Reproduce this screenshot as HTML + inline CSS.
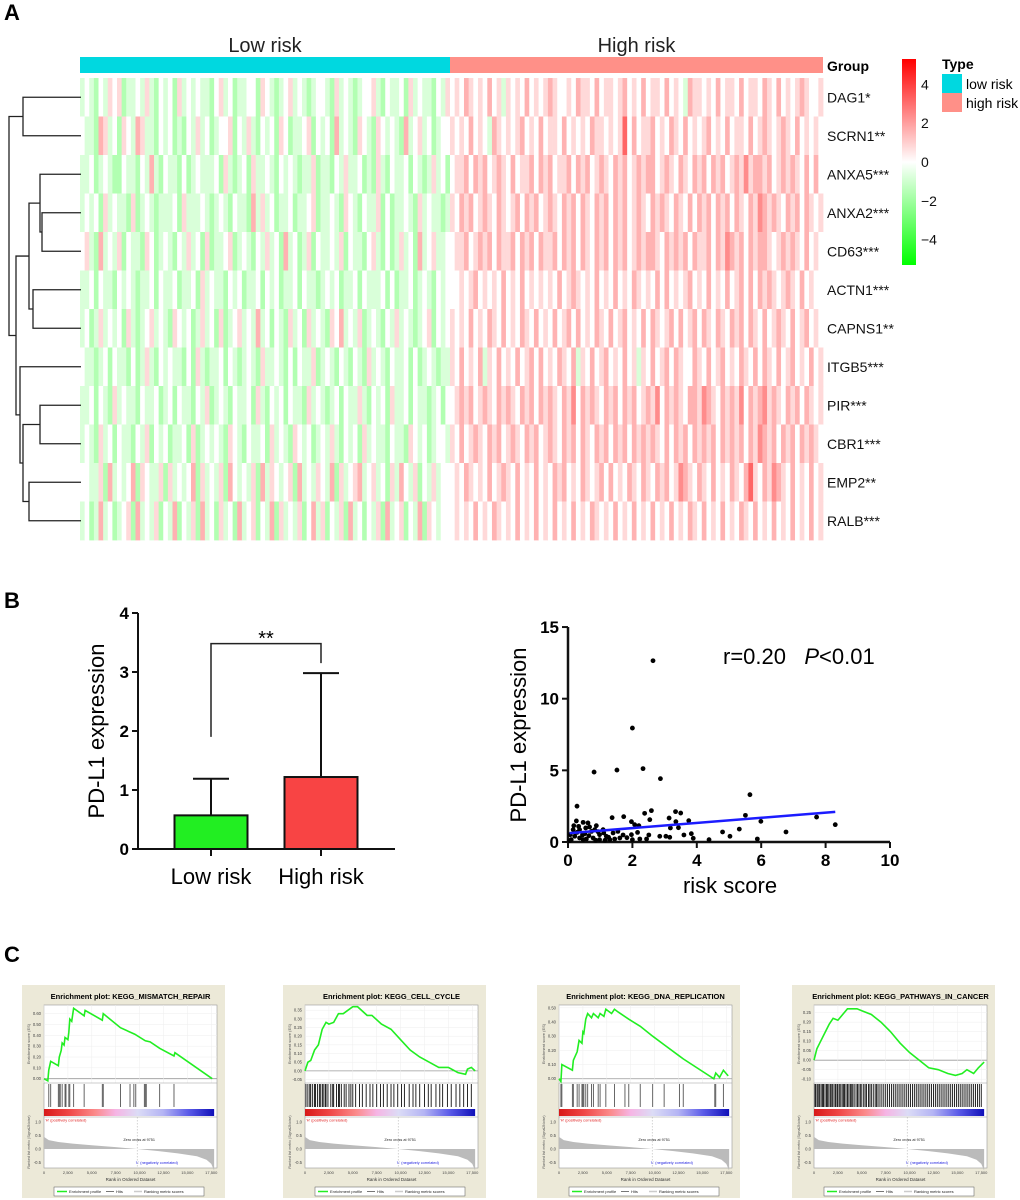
<!DOCTYPE html>
<html><head><meta charset="utf-8">
<style>
html,body{margin:0;padding:0;background:#fff;}
svg{display:block;font-family:"Liberation Sans",Arial,sans-serif;}
</style></head>
<body>
<svg id="fig" xmlns="http://www.w3.org/2000/svg" width="1020" height="1200" viewBox="0 0 1020 1200">
<defs>
<linearGradient id="cbGrad" x1="0" y1="0" x2="0" y2="1">
<stop offset="0" stop-color="#ff0000"/><stop offset="0.5" stop-color="#ffffff"/><stop offset="1" stop-color="#00ff00"/>
</linearGradient>
<linearGradient id="rankGrad" x1="0" y1="0" x2="1" y2="0">
<stop offset="0" stop-color="#d81818"/><stop offset="0.15" stop-color="#f04848"/><stop offset="0.3" stop-color="#fb8a8a"/>
<stop offset="0.42" stop-color="#f6b4e4"/><stop offset="0.55" stop-color="#dcdcf6"/><stop offset="0.7" stop-color="#b4b4f4"/>
<stop offset="0.85" stop-color="#5a5ae8"/><stop offset="1" stop-color="#1010b8"/>
</linearGradient>
</defs>
<text x="4" y="20" font-size="22" font-weight="bold">A</text>
<text x="4" y="608" font-size="22" font-weight="bold">B</text>
<text x="4" y="962" font-size="22" font-weight="bold">C</text>
</svg>
<script>
const NS='http://www.w3.org/2000/svg';
const svg=document.getElementById('fig');
function el(tag,attrs,parent){const e=document.createElementNS(NS,tag);for(const k in attrs)e.setAttribute(k,attrs[k]);(parent||svg).appendChild(e);return e;}
function txt(str,attrs,parent){const e=el('text',attrs,parent);e.textContent=str;return e;}

/* ================= HEATMAP DATA ================= */
const genes=['DAG1*','SCRN1**','ANXA5***','ANXA2***','CD63***','ACTN1***','CAPNS1**','ITGB5***','PIR***','CBR1***','EMP2**','RALB***'];
const lowRows=[
"45435465634454643545364545443564534455365434564543455436454345564354453645443546",
"54437645365476443545343546453455635464354536534456354537454365436545437456453455",
"44534543354435474354435345444536434536445435454344634435464453436435445354346453",
"45453645443634543444536444543454354437464534453445634454365435446353445436454434",
"56437454635443653454354645363445634543546453745346354454635443564353464537456445",
"44535443545434453544534453645443545344535453445354434545344535444535344534543545",
"45346454536434564543654534645363456454745354364536454365745463454354645434563545",
"54434535443534643545443536434453543454364454353544634543543543645435445353454344",
"44535436454435445345354435463454354453643545354436454345354464354536445354434535",
"45436453544354635453445363454543654354453645436545345464354536454435443654534554",
"55446374545736544636454573645463754546374654563745465473645674564536475463546455",
"45347453456374546354735463745364537456354736454635746354637453546374563547365455"];
const highRows=[
"56576565756465657565676556576657566567565756657565476656575665756657657565676556",
"65657565476565675657566575656576656569575667565765756567565756657567656765756565",
"56675767567657566757675667576756765767567677567657657675767567686776756767657575",
"65767567657656757675676576757657675767567657676576575767576757657687676576757656",
"56675676757667576757667576757657675767567677657676757667576876757677656767657565",
"55656756565756575656565756765657565756576565757565675657565756757576765676575655",
"65657565765756576575657567575657657567565757656757567576576576757657567657567565",
"65756574657565756757565765746575675657564657567576557657567565765757657567565756",
"56767567657676576757676576857676576757675676857676577687657676857678676576757656",
"65756765767567657675676576757657675767576767657576757676757676757687675767576765",
"56576565756765756575657675657656757565765765767568765765756576579657687657565756",
"56565756576565756575657565756576565756575657565756576575657565765756575657565756"];
const colorbarTicks=[4,2,0,-2,-4];
const groupNames=['Low risk','High risk'];
const levelStep=0.8;

const hmX0=80,hmMid=450,hmX1=823,hmY0=78,rowH=38.5;
function heatColor(v){const t=Math.min(1,Math.abs(v)/5.3);
  if(v>=0){const g=Math.round(255*(1-t));return 'rgb(255,'+g+','+g+')';}
  const r=Math.round(255*(1-t));return 'rgb('+r+',255,'+r+')';}
const hm=el('g',{});


function drawHalf(rows,x0,x1){
  rows.forEach((s,i)=>{const w=(x1-x0)/s.length;
    for(let j=0;j<s.length;j++){const v=(parseInt(s[j])-5)*levelStep;
      const r=el('rect',{x:(x0+j*w).toFixed(2),y:(hmY0+i*rowH).toFixed(2),width:(w+0.4).toFixed(2),height:(rowH+0.4).toFixed(2),fill:heatColor(v)},hm);
      
      
    }});
}
drawHalf(lowRows,hmX0,hmMid);
drawHalf(highRows,hmMid,hmX1);
let gb=el('rect',{x:hmX0,y:57,width:hmMid-hmX0,height:16,fill:'#00d8e0'});


gb=el('rect',{x:hmMid,y:57,width:hmX1-hmMid,height:16,fill:'#ff9088'});


let t=txt(groupNames[0],{x:(hmX0+hmMid)/2,y:52,'font-size':20,'text-anchor':'middle',fill:'#222'});


t=txt(groupNames[1],{x:(hmMid+hmX1)/2,y:52,'font-size':20,'text-anchor':'middle',fill:'#222'});


t=txt('Group',{x:827,y:71,'font-size':14,'font-weight':'bold'});


genes.forEach((g,i)=>{const l=txt(g,{x:827,y:hmY0+rowH*(i+0.5)+5,'font-size':14,fill:'#111'});
  
  });
const cbY0=59,cbY1=265,cb0=162,cbScale=19.4;
let cbr=el('rect',{x:902,y:cbY0,width:14,height:cbY1-cbY0,fill:'url(#cbGrad)'});


colorbarTicks.forEach(v=>{const l=txt(v<0?'\u2212'+(-v):String(v),{x:921,y:cb0-v*cbScale+5,'font-size':14,fill:'#111'});
  
  });
t=txt('Type',{x:942,y:69,'font-size':14,'font-weight':'bold'});


let lb=el('rect',{x:942,y:74,width:20,height:19,fill:'#00d8e0'});


lb=el('rect',{x:942,y:93,width:20,height:19,fill:'#ff9088'});


t=txt('low risk',{x:966,y:89,'font-size':14});


t=txt('high risk',{x:966,y:108,'font-size':14});


const dendNodes=[[0,1,23],[3,4,42],[2,'n1',40],[5,6,33],['n2','n3',29],[8,9,40],[10,11,29],['n5','n6',23],[7,'n7',20],['n4','n8',16],['n0','n9',9]];
const dg=el('g',{stroke:'#222','stroke-width':1.3,fill:'none'});


const nodePos={};
function childPos(c){if(typeof c==='number')return {x:81,y:hmY0+rowH*(c+0.5)};return nodePos[c];}
dendNodes.forEach((n,k)=>{const a=childPos(n[0]),b=childPos(n[1]),x=n[2];
  el('path',{d:'M'+a.x+','+a.y+'H'+x+'V'+b.y+'H'+b.x},dg);
  nodePos['n'+k]={x:x,y:(a.y+b.y)/2};});

/* ================= BAR CHART ================= */
const barCats=['Low risk','High risk'];
const barMeans=[0.57,1.22];
const barErr=[1.19,2.98];
const barColors=['#22ee22','#f84444'];
const barYTicks=[0,1,2,3,4];
const bracketY=3.48,bracketLeftY=1.9,bracketRightY=3.15;
const bX0=138,bX1=395,bYb=849,bPx=59;
const barCenters=[211,321];
function by(v){return bYb-v*bPx;}
const bg=el('g',{});


barCats.forEach((c,i)=>{const cx=barCenters[i];
  const r=el('rect',{x:cx-36.5,y:by(barMeans[i]),width:73,height:by(0)-by(barMeans[i]),fill:barColors[i],stroke:'#111','stroke-width':2},bg);
  
  
  const e=el('path',{d:'M'+cx+','+by(barMeans[i])+'V'+by(barErr[i])+'M'+(cx-18)+','+by(barErr[i])+'H'+(cx+18),stroke:'#111','stroke-width':2,fill:'none'},bg);
  
  
  const l=txt(c,{x:cx,y:884,'font-size':22,'text-anchor':'middle'},bg);
  
  
  el('line',{x1:cx,y1:bYb,x2:cx,y2:bYb+7,stroke:'#111','stroke-width':2},bg);
});
let ax=el('path',{d:'M'+bX0+','+by(4)+'V'+bYb+'H'+bX1,stroke:'#111','stroke-width':2,fill:'none'},bg);


barYTicks.forEach(v=>{el('line',{x1:bX0-6,y1:by(v),x2:bX0,y2:by(v),stroke:'#111','stroke-width':2},bg);
  const l=txt(String(v),{x:bX0-9,y:by(v)+6,'font-size':17,'font-weight':'bold','text-anchor':'end'},bg);
  
  });
let br=el('path',{d:'M'+barCenters[0]+','+by(bracketLeftY)+'V'+by(bracketY)+'H'+barCenters[1]+'V'+by(bracketRightY),stroke:'#222','stroke-width':1.5,fill:'none'},bg);


t=txt('**',{x:(barCenters[0]+barCenters[1])/2,y:645,'font-size':20,'text-anchor':'middle'},bg);


t=txt('PD-L1 expression',{x:0,y:0,'font-size':22,'text-anchor':'middle',transform:'translate(104,731) rotate(-90)'},bg);



/* ================= SCATTER ================= */
const scatterX=[2.64,2.0,0.81,1.52,2.33,2.87,5.65,0.28,2.38,2.59,3.34,3.5,1.73,1.37,3.14,5.51,7.72,8.3,5.99,3.75,2.54,3.35,3.43,3.18,5.32,4.8,5.03,6.77,5.88,4.38,3.83,3.89,3.6,3.04,3.16,2.85,2.51,2.44,2.23,2.16,1.97,2.07,1.97,2.2,0.26,0.47,0.62,0.88,1.09,0.16,0.36,0.52,0.73,0.98,1.19,1.4,1.55,1.61,1.45,1.3,0.98,0.78,0.57,0.36,0.21,0.1,0.05,0.33,0.55,0.67,0.83,0.93,0.28,0.45,0.65,1.11,1.26,1.71,1.83,2.0,0.07,0.18,0.47,0.86,1.15];
const scatterY=[12.65,7.95,4.88,5.02,5.12,4.42,3.3,2.5,2.0,2.19,2.12,2.02,1.77,1.7,1.67,1.86,1.74,1.21,1.44,1.49,1.56,1.42,1.0,0.98,0.9,0.7,0.4,0.7,0.21,0.16,0.58,0.26,0.49,0.4,0.33,0.4,0.49,0.21,0.21,0.67,0.51,1.21,1.42,1.14,1.47,1.37,1.33,1.14,0.86,0.86,0.86,0.58,0.74,0.51,0.4,0.63,0.74,0.28,0.21,0.16,0.16,0.28,0.21,0.28,0.4,0.16,0.09,1.09,0.98,1.05,0.86,0.72,0.67,0.49,0.44,0.63,0.33,0.49,0.3,0.16,0.51,1.14,0.16,0.12,0.12];
const fitX=[0.05,8.3];
const fitY=[0.62,2.1];
const scXTicks=[0,2,4,6,8,10];
const scYTicks=[0,5,10,15];
const sX0=568,sY0=842,sXpx=32.2,sYpx=14.33;
function sx(v){return sX0+v*sXpx;}
function sy(v){return sY0-v*sYpx;}
const sg=el('g',{});


ax=el('path',{d:'M'+sx(0)+','+sy(15)+'V'+sY0+'H'+sx(10),stroke:'#111','stroke-width':2.5,fill:'none'},sg);


scXTicks.forEach(v=>{el('line',{x1:sx(v),y1:sY0,x2:sx(v),y2:sY0+6,stroke:'#111','stroke-width':2},sg);
  const l=txt(String(v),{x:sx(v),y:866,'font-size':17,'font-weight':'bold','text-anchor':'middle'},sg);
  
  });
scYTicks.forEach(v=>{el('line',{x1:sX0-6,y1:sy(v),x2:sX0,y2:sy(v),stroke:'#111','stroke-width':2},sg);
  const l=txt(String(v),{x:sX0-9,y:sy(v)+6,'font-size':17,'font-weight':'bold','text-anchor':'end'},sg);
  
  });
scatterX.forEach((x,i)=>{const c=el('circle',{cx:sx(x),cy:sy(scatterY[i]),r:2.4,fill:'#000'},sg);
  
  });
let fl=el('line',{x1:sx(fitX[0]),y1:sy(fitY[0]),x2:sx(fitX[1]),y2:sy(fitY[1]),stroke:'#1c1cff','stroke-width':2.5},sg);


t=txt('',{x:723,y:664,'font-size':22},sg);
t.innerHTML='r=0.20\u00a0\u00a0 <tspan font-style="italic">P</tspan>&lt;0.01';


t=txt('risk score',{x:730,y:893,'font-size':22,'text-anchor':'middle'},sg);


t=txt('PD-L1 expression',{x:0,y:0,'font-size':22,'text-anchor':'middle',transform:'translate(526,735) rotate(-90)'},sg);



/* ================= GSEA ================= */
const gseaTitles=['Enrichment plot: KEGG_MISMATCH_REPAIR','Enrichment plot: KEGG_CELL_CYCLE','Enrichment plot: KEGG_DNA_REPLICATION','Enrichment plot: KEGG_PATHWAYS_IN_CANCER'];
const gseaLefts=[22,283,537,792];
const esRanges=[[-0.04,0.68],[-0.07,0.38],[-0.03,0.52],[-0.12,0.29]];
const esTicks=[[0,0.1,0.2,0.3,0.4,0.5,0.6],[-0.05,0,0.05,0.1,0.15,0.2,0.25,0.3,0.35],[0,0.1,0.2,0.3,0.4,0.5],[-0.1,-0.05,0,0.05,0.1,0.15,0.2,0.25]];
const esRank1=[0,0.4,0.5,0.7,1.5,1.6,1.8,1.9,2.1,2.2,2.5,2.6,2.7,2.9,3.1,4.2,4.3,6.1,6.2,8,9.5,10.6,11.1,12.1,13.6,13.7,17.6];
const esVal1=[0,-0.02,0.08,0.16,0.12,0.2,0.26,0.33,0.31,0.38,0.36,0.43,0.55,0.53,0.65,0.58,0.63,0.54,0.6,0.47,0.41,0.35,0.34,0.28,0.21,0.24,0];
const esRank2=[0,0.3,0.6,1,1.4,1.8,2.2,2.5,3,3.5,4,4.5,5,5.5,6.5,7,8,9,10,11,12,13,14,15,16,16.8,17,17.4,17.8];
const esVal2=[0,0.05,0.06,0.12,0.15,0.24,0.28,0.27,0.28,0.33,0.33,0.35,0.37,0.37,0.32,0.32,0.27,0.24,0.18,0.12,0.08,0.05,0.02,0.02,-0.01,-0.02,0.01,0.02,0.0];
const esRank3=[0,0.2,0.3,1.4,1.5,1.9,2.1,2.4,2.5,2.6,2.8,3.0,3.4,3.6,4.1,4.3,4.7,4.9,5.5,5.8,6.2,7.3,8.5,9.8,11,12.6,13,16.2,16.4,16.8,17.2,17.7];
const esVal3=[0,-0.02,0.1,0.06,0.13,0.19,0.27,0.25,0.33,0.32,0.42,0.46,0.43,0.46,0.43,0.46,0.44,0.49,0.46,0.49,0.47,0.42,0.37,0.3,0.24,0.16,0.14,0,0.04,0.01,0.06,0.02];
const esRank4=[0,0.3,0.6,1.2,1.6,2,2.5,3,3.5,4.5,5,6,7,8,9,10,11,12,13,14,14.8,15.5,16,16.7,17.2,17.8];
const esVal4=[0,0.06,0.09,0.15,0.19,0.22,0.21,0.24,0.27,0.27,0.26,0.24,0.2,0.15,0.09,0.04,0.0,-0.04,-0.05,-0.07,-0.08,-0.07,-0.05,-0.07,-0.04,-0.01];
const esRanks=[esRank1,esRank2,esRank3,esRank4];
const esVals=[esVal1,esVal2,esVal3,esVal4];
const hits1=[0.5,0.7,1.5,1.6,1.7,1.9,2.2,2.3,2.6,2.7,3.1,4.2,6.1,6.2,8.0,9.0,9.4,9.6,10.5,10.6,10.7,12.1,13.6];
const hits2=[0.1,0.3,0.5,0.6,0.8,1.0,1.1,1.3,1.5,1.6,1.8,1.9,2.1,2.2,2.4,2.7,2.9,3.0,3.3,3.5,3.6,3.8,4.1,4.3,4.6,4.8,5.0,5.3,5.7,6.0,6.4,6.8,7.1,7.5,7.9,8.2,8.6,9.0,9.3,9.7,10.1,10.4,10.9,11.3,11.6,12.0,12.5,12.9,13.2,13.7,14.1,14.4,14.9,15.3,15.8,16.2,16.6,17.0,17.4];
const hits3=[0.2,0.3,1.4,1.5,1.9,2.1,2.4,2.5,2.6,2.8,3.0,3.4,3.6,4.1,4.3,4.9,5.8,6.9,7.3,8.5,9.8,11.0,12.6,13.0,16.3,16.4,17.2];
const hits4=[0.1,0.2,0.35,0.5,0.6,0.75,0.9,1.0,1.15,1.3,1.4,1.55,1.7,1.8,1.95,2.1,2.25,2.4,2.5,2.65,2.8,2.95,3.1,3.2,3.35,3.5,3.65,3.8,3.9,4.05,4.2,4.4,4.55,4.7,4.85,5.0,5.2,5.35,5.5,5.7,5.85,6.0,6.2,6.4,6.55,6.7,6.9,7.1,7.3,7.5,7.7,7.9,8.1,8.3,8.5,8.7,8.9,9.1,9.3,9.5,9.7,9.9,10.1,10.3,10.5,10.7,10.9,11.1,11.3,11.5,11.7,11.9,12.1,12.3,12.5,12.7,12.9,13.1,13.3,13.5,13.7,13.9,14.1,14.3,14.5,14.7,14.9,15.1,15.3,15.5,15.7,15.9,16.1,16.3,16.5,16.7,16.9,17.1,17.3,17.5];
const hitsAll=[hits1,hits2,hits3,hits4];
const rankMetricRank=[0,0.5,1.5,3,5,7.5,9.75,12,14,16,17,17.5,17.8];
const rankMetricVal=[0.45,0.33,0.26,0.2,0.14,0.07,0,-0.08,-0.16,-0.27,-0.4,-0.55,-0.8];
const rankXTicks=[0,2.5,5,7.5,10,12.5,15,17.5];
const rankXLabels=['0','2,500','5,000','7,500','10,000','12,500','15,000','17,500'];
const zeroCross=9.751;

gseaLefts.forEach((px,p)=>{
  const g=el('g',{});
  
  
  const pl=px+22,pr=px+195,pw=pr-pl;
  function X(r){return pl+r/18.1*pw;}
  const [mn,mx]=esRanges[p];
  function Y(v){return 1005+(mx-v)/(mx-mn)*78;}
  function YR(v){return 1149-v*27;}
  el('rect',{x:px,y:985,width:203,height:213,fill:'#ece9d8'},g);
  const tt=txt(gseaTitles[p],{x:(pl+pr)/2,y:999,'font-size':7.5,'font-weight':'bold','text-anchor':'middle'},g);
  
  
  el('rect',{x:pl,y:1005,width:pw,height:163,fill:'#fff',stroke:'#999','stroke-width':0.6},g);
  esTicks[p].forEach(v=>{el('line',{x1:pl,y1:Y(v),x2:pr,y2:Y(v),stroke:v===0?'#999':'#eee','stroke-width':v===0?0.8:0.5},g);
    const l=txt(v.toFixed(2),{x:pl-3,y:Y(v)+1.5,'font-size':4.2,'text-anchor':'end',fill:'#444'},g);
    
    });
  rankXTicks.forEach(r=>{el('line',{x1:X(r),y1:1005,x2:X(r),y2:1083,stroke:'#eee','stroke-width':0.5},g);});
  const rl=txt('Enrichment score (ES)',{x:0,y:0,'font-size':4,'text-anchor':'middle',fill:'#555',transform:'translate('+(px+8)+',1044) rotate(-90)'},g);
  
  
  const pts=esRanks[p].map((r,i)=>X(r).toFixed(2)+','+Y(esVals[p][i]).toFixed(2)).join(' ');
  const c=el('polyline',{points:pts,fill:'none',stroke:'#22ee22','stroke-width':1.6},g);
  
  
  el('line',{x1:pl,y1:1083,x2:pr,y2:1083,stroke:'#999','stroke-width':0.6},g);
  hitsAll[p].forEach(h=>{const hl=el('line',{x1:X(h),y1:1084,x2:X(h),y2:1107,stroke:p%2?'#111':'#555','stroke-width':0.9},g);
    
    });
  const rb=el('rect',{x:pl,y:1109,width:X(17.8)-pl,height:7,fill:'url(#rankGrad)'},g);
  
  
  el('line',{x1:pl,y1:1117,x2:pr,y2:1117,stroke:'#999','stroke-width':0.5},g);
  txt("'H' (positively correlated)",{x:pl+1,y:1121.5,'font-size':3.8,fill:'#e02020'},g);
  let d='M'+X(0)+','+YR(0);
  rankMetricRank.forEach((r,i)=>{d+='L'+X(r).toFixed(2)+','+YR(rankMetricVal[i]).toFixed(2);});
  d+='L'+X(17.8)+','+YR(0)+'Z';
  const ar=el('path',{d:d,fill:'#bbb'},g);
  
  
  el('line',{x1:X(zeroCross),y1:1117,x2:X(zeroCross),y2:1168,stroke:'#aaa','stroke-width':0.5,'stroke-dasharray':'1.5,1.5'},g);
  txt('Zero cross at 9751',{x:X(zeroCross)+2,y:1141,'font-size':3.8,'text-anchor':'middle',fill:'#222'},g);
  txt("'L' (negatively correlated)",{x:X(11.8),y:1164,'font-size':3.8,'text-anchor':'middle',fill:'#2020e0'},g);
  [1.0,0.5,0.0,-0.5].forEach(v=>{txt(v.toFixed(1),{x:pl-3,y:YR(v)+1.5,'font-size':4.2,'text-anchor':'end',fill:'#444'},g);});
  txt('Ranked list metric (Signal2Noise)',{x:0,y:0,'font-size':3.6,'text-anchor':'middle',fill:'#555',transform:'translate('+(px+8)+',1142) rotate(-90)'},g);
  rankXTicks.forEach((r,i)=>{txt(rankXLabels[i],{x:X(r),y:1174,'font-size':4,'text-anchor':'middle',fill:'#444'},g);});
  txt('Rank in Ordered Dataset',{x:(pl+pr)/2,y:1181,'font-size':4.5,'text-anchor':'middle',fill:'#333'},g);
  const lgb=el('rect',{x:px+32,y:1187,width:150,height:9,fill:'#fff',stroke:'#555','stroke-width':0.5},g);
  
  
  el('line',{x1:px+35,y1:1191.5,x2:px+45,y2:1191.5,stroke:'#22ee22','stroke-width':1.5},g);
  txt('Enrichment profile',{x:px+47,y:1193,'font-size':4,fill:'#222'},g);
  el('line',{x1:px+84,y1:1191.5,x2:px+92,y2:1191.5,stroke:'#555','stroke-width':0.8},g);
  txt('Hits',{x:px+94,y:1193,'font-size':4,fill:'#222'},g);
  el('line',{x1:px+112,y1:1191.5,x2:px+120,y2:1191.5,stroke:'#ccc','stroke-width':1.5},g);
  txt('Ranking metric scores',{x:px+122,y:1193,'font-size':4,fill:'#222'},g);
});
</script>
</body></html>
